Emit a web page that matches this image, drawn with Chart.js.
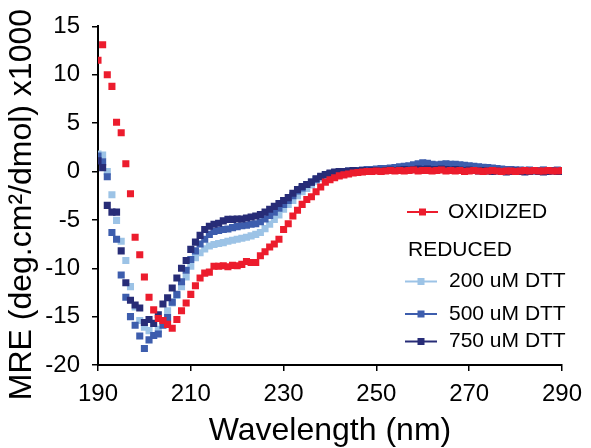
<!DOCTYPE html>
<html>
<head>
<meta charset="utf-8">
<script src="https://cdn.jsdelivr.net/npm/chart.js@4/dist/chart.umd.min.js"></script>
<style>
  html, body { margin: 0; padding: 0; background: #fff; }
  #wrap { width: 591px; height: 448px; }
</style>
</head>
<body>
<div id="wrap"><canvas id="c" width="591" height="448"></canvas></div>
<script>
// ---------- DATA ----------
const wavelengths = [
  190,191,192,193,194,195,196,197,198,199,
  200,201,202,203,204,205,206,207,208,209,
  210,211,212,213,214,215,216,217,218,219,
  220,221,222,223,224,225,226,227,228,229,
  230,231,232,233,234,235,236,237,238,239,
  240,241,242,243,244,245,246,247,248,249,
  250,251,252,253,254,255,256,257,258,259,
  260,261,262,263,264,265,266,267,268,269,
  270,271,272,273,274,275,276,277,278,279,
  280,281,282,283,284,285,286,287,288,289,
  290
];
const oxidized = [
  11.5,13.1,10.0,8.8,5.1,4.0,0.8,-2.3,-6.8,-8.6,
  -10.9,-13.0,-14.3,-15.2,-15.4,-15.8,-16.2,-15.3,-14.4,-13.6,
  -12.7,-11.8,-11.0,-10.5,-10.4,-9.8,-9.8,-9.75,-9.85,-9.7,
  -9.75,-9.6,-9.3,-9.4,-9.4,-8.7,-8.3,-7.8,-7.5,-7.0,
  -6.0,-5.4,-4.6,-4.0,-3.4,-2.9,-2.6,-2.1,-1.6,-1.1,
  -0.85,-0.65,-0.45,-0.35,-0.25,-0.15,-0.1,-0.05,0,0,
  0.05,0,0.05,0.1,0.05,0.1,0.05,0.1,0.15,0.05,
  0.1,0.1,0.05,0.1,0.15,0.05,0.1,0.05,0.1,0,
  0.05,0.1,0.05,0,0.05,0.1,0.05,0,0.05,0.05,
  0,0.05,0.1,0.05,0.1,0.05,0.05,0.1,0.05,0.05,
  0.1
];
const dtt200 = [
  1.8,1.7,0.0,-2.4,-5.05,-7.2,-9.2,-11.9,-14.0,-15.4,
  -16.1,-16.45,-16.95,-16.3,-15.5,-14.4,-13.6,-12.8,-11.9,-10.9,
  -9.8,-8.9,-8.4,-8.0,-7.7,-7.55,-7.45,-7.35,-7.2,-7.1,
  -7.0,-6.9,-6.8,-6.65,-6.5,-6.3,-5.9,-5.45,-4.95,-4.5,
  -3.9,-3.4,-3.0,-2.5,-2.1,-1.75,-1.4,-1.0,-0.7,-0.5,
  -0.3,-0.2,-0.1,-0.05,0,0.05,0.1,0.05,0.1,0.1,
  0.15,0.1,0.2,0.15,0.2,0.25,0.2,0.3,0.3,0.35,
  0.4,0.35,0.4,0.45,0.4,0.45,0.4,0.35,0.4,0.3,
  0.3,0.25,0.3,0.2,0.25,0.2,0.15,0.2,0.15,0.1,
  0.15,0.1,0.15,0.1,0.05,0.1,0.15,0.1,0.05,0.1,
  0.1
];
const dtt500 = [
  1.6,1.0,-0.55,-6.3,-7.0,-10.7,-13.0,-15.0,-15.9,-17.0,
  -18.3,-17.4,-16.95,-16.8,-15.9,-15.1,-13.5,-12.7,-11.4,-10.2,
  -9.1,-8.2,-7.5,-7.0,-6.5,-6.2,-6.1,-6.0,-5.95,-5.8,
  -5.7,-5.6,-5.55,-5.45,-5.4,-5.2,-4.9,-4.55,-4.2,-3.8,
  -3.4,-3.0,-2.5,-2.0,-1.7,-1.35,-1.1,-0.8,-0.55,-0.35,
  -0.2,-0.1,0,0,0.05,0.1,0.1,0.15,0.2,0.2,
  0.25,0.3,0.3,0.35,0.4,0.5,0.55,0.6,0.7,0.8,
  0.9,0.85,0.75,0.7,0.75,0.8,0.75,0.75,0.7,0.65,
  0.6,0.55,0.5,0.45,0.4,0.35,0.3,0.25,0.2,0.2,
  0.15,0.15,0.1,0.15,0.1,0.1,0.15,0.1,0.1,0.15,
  0.1
];
const dtt750 = [
  1.1,0.4,-3.5,-4.2,-4.2,-8.2,-11.5,-13.3,-13.8,-14.1,
  -15.6,-15.3,-15.7,-14.8,-13.7,-13.05,-12.05,-11.0,-10.0,-9.2,
  -8.05,-7.3,-6.6,-6.0,-5.65,-5.45,-5.35,-5.1,-4.95,-4.95,
  -4.9,-4.9,-4.8,-4.7,-4.6,-4.45,-4.2,-3.9,-3.6,-3.3,
  -3.0,-2.7,-2.25,-1.85,-1.55,-1.35,-1.1,-0.75,-0.5,-0.3,
  -0.15,-0.05,0,0,0.05,0.1,0.05,0.1,0.05,0.1,
  0.1,0.05,0.1,0.15,0.1,0.15,0.2,0.15,0.2,0.25,
  0.2,0.25,0.2,0.2,0.25,0.2,0.15,0.2,0.15,0.1,
  0.15,0.1,0.05,0.1,0.05,0,0.05,0,-0.05,0,
  0.05,0,-0.05,0,0.05,0,-0.05,0,0.05,0,
  0
];
const xTickValues = [190, 210, 230, 250, 270, 290];
const yTickValues = [-20, -15, -10, -5, 0, 5, 10, 15];
const seriesLabels = ['OXIDIZED', '200 uM DTT', '500 uM DTT', '750 uM DTT'];
const groupLabel = 'REDUCED';
const seriesColors = ['#EC1C2D', '#9CC3E6', '#3D5DAD', '#272C77'];
const xTitle = 'Wavelength (nm)';
const yTitle = 'MRE (deg.cm\u00B2/dmol) x1000';

// ---------- CHART ----------
const FONT = '"Liberation Sans", Arial, Helvetica, sans-serif';
function toPoints(ys) { return wavelengths.map((w, i) => ({ x: w, y: ys[i] })); }
const seriesValues = [oxidized, dtt200, dtt500, dtt750];
const drawOrder = [0, 3, 2, 1]; // red on top, then navy, medium, light

const datasets = seriesValues.map((vals, i) => ({
  label: seriesLabels[i],
  data: toPoints(vals),
  showLine: false,
  pointStyle: 'rect',
  pointRadius: 5,
  pointBorderWidth: 0,
  pointBackgroundColor: seriesColors[i],
  pointBorderColor: seriesColors[i],
  backgroundColor: seriesColors[i],
  borderColor: seriesColors[i],
  order: drawOrder[i]
}));

const customLegend = {
  id: 'customLegend',
  afterDraw(chart) {
    const ctx = chart.ctx;
    ctx.save();
    ctx.font = '21px ' + FONT;
    ctx.textBaseline = 'middle';
    ctx.textAlign = 'left';
    const rows = [
      { label: seriesLabels[0], color: seriesColors[0], y: 212, x0: 407, x1: 438, tx: 448 },
      { label: groupLabel, color: null, y: 250, tx: 408 },
      { label: seriesLabels[1], color: seriesColors[1], y: 281.5, x0: 405, x1: 437, tx: 449 },
      { label: seriesLabels[2], color: seriesColors[2], y: 314, x0: 405, x1: 437, tx: 449 },
      { label: seriesLabels[3], color: seriesColors[3], y: 341.5, x0: 405, x1: 437, tx: 449 }
    ];
    rows.forEach(r => {
      if (r.color) {
        ctx.strokeStyle = r.color;
        ctx.lineWidth = 2;
        ctx.beginPath();
        ctx.moveTo(r.x0, r.y);
        ctx.lineTo(r.x1, r.y);
        ctx.stroke();
        ctx.fillStyle = r.color;
        const cx = (r.x0 + r.x1) / 2;
        ctx.fillRect(cx - 3.5, r.y - 3.5, 7, 7);
      }
      ctx.fillStyle = '#000';
      ctx.fillText(r.label, r.tx, r.y);
    });
    ctx.restore();
  }
};

new Chart(document.getElementById('c'), {
  type: 'scatter',
  data: { datasets },
  plugins: [customLegend],
  options: {
    responsive: false,
    animation: false,
    devicePixelRatio: 1,
    events: [],
    layout: { padding: { top: 20, right: 27, left: 0, bottom: 0 } },
    plugins: { legend: { display: false }, tooltip: { enabled: false } },
    scales: {
      x: {
        type: 'linear',
        min: 190, max: 290,
        afterBuildTicks: s => { s.ticks = xTickValues.map(v => ({ value: v })); },
        afterFit: s => { s.height = 83; },
        border: { display: true, color: '#000', width: 2 },
        grid: { display: true, drawOnChartArea: false, drawTicks: true, tickLength: 6, color: '#000', lineWidth: 1.5 },
        ticks: { color: '#000', padding: 9, font: { family: FONT, size: 24 }, maxRotation: 0 },
        title: { display: true, text: xTitle, color: '#000', font: { family: FONT, size: 32 }, padding: { top: 0, bottom: -2 } }
      },
      y: {
        type: 'linear',
        min: -20, max: 15,
        afterBuildTicks: s => { s.ticks = yTickValues.map(v => ({ value: v })); },
        afterFit: s => { s.width = 98; },
        border: { display: true, color: '#000', width: 2 },
        grid: { display: true, drawOnChartArea: false, drawTicks: true, tickLength: 6, color: '#000', lineWidth: 1.5 },
        ticks: { color: '#000', padding: 12, font: { family: FONT, size: 24 } },
        title: { display: true, text: yTitle + '\u00A0\u00A0', color: '#000', font: { family: FONT, size: 32 }, padding: { top: 3, bottom: 0 } }
      }
    }
  }
});
</script>
</body>
</html>
